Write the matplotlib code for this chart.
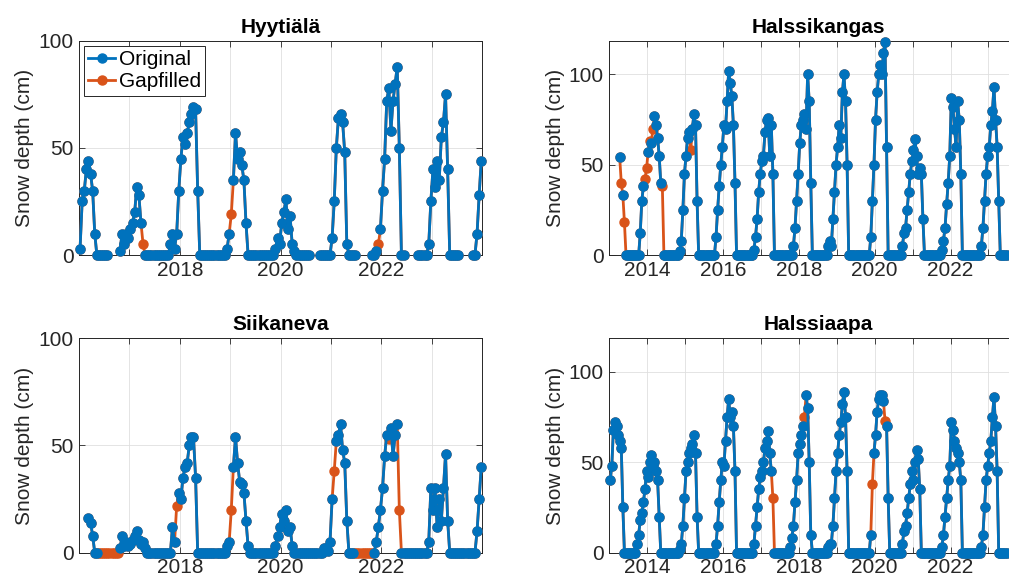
import numpy as np
import matplotlib.pyplot as plt

plt.rcParams['font.family'] = ['Liberation Sans', 'DejaVu Sans']

n = np.nan

# Snow depth (cm), two values per month (1st / 2nd half), nan = no data
# Gapfilled values are in the same lists, their positions in *_gap (year, half-month)

# Hyytiälä 2016-2023
hyy = [
    [3, 25, 30, 40, 44, 38, 30, 10, 0, 0, 0, 0, 0, 0, n, n, n, n, n, 2, 10, 5, 10, 8],
    [12, 15, 20, 32, 28, 15, 5, 0, 0, 0, 0, 0, 0, 0, 0, 0, 0, 0, 0, 5, 10, 3, 10, 30],
    [45, 55, 52, 57, 62, 66, 69, 68, 30, 0, 0, 0, 0, 0, 0, 0, 0, 0, 0, 0, 0, 0, 3, 10],
    [19, 35, 57, 45, 48, 42, 35, 15, 0, 0, 0, 0, 0, 0, 0, 0, 0, 0, 0, 0, 0, 3, 8, 5],
    [15, 20, 26, 12, 18, 5, 2, 0, 0, 0, 0, 0, 0, 0, n, n, n, n, 0, 0, 0, 0, 0, 0],
    [8, 25, 50, 64, 66, 62, 48, 5, 0, 0, 0, 0, n, n, n, n, n, n, n, 0, 0, 2, 5, 12],
    [30, 45, 72, 78, 58, 72, 80, 88, 50, 0, 0, n, n, n, n, n, n, 0, 0, 0, 0, 0, 5, 25],
    [40, 32, 44, 35, 55, 62, 75, 40, 0, 0, 0, 0, 0, n, n, n, n, n, n, 0, 0, 10, 28, 44],
]
hyy_gap = [(2017, 6), (2019, 0), (2021, 22)]

# Siikaneva 2016-2023
sii = [
    [n, n, n, n, 16, 14, 8, 0, 0, 0, 0, 0, 0, 0, 0, 0, 0, 0, 0, 2, 8, 3, 5, 3],
    [4, 6, 8, 10, 6, 4, 5, 2, 0, 0, 0, 0, 0, 0, 0, 0, 0, 0, 0, 0, 12, 5, 22, 28],
    [25, 35, 40, 42, 50, 54, 54, 35, 0, 0, 0, 0, 0, 0, 0, 0, 0, 0, 0, 0, 0, 0, 3, 5],
    [20, 40, 54, 42, 33, 32, 28, 15, 3, 0, 0, 0, 0, 0, 0, 0, 0, 0, 0, 0, 0, 3, 8, 12],
    [18, 15, 20, 10, 12, 3, 0, 0, 0, 0, 0, 0, 0, 0, 0, 0, 0, 0, 0, 0, 2, 2, 1, 5],
    [25, 38, 52, 55, 60, 48, 42, 15, 0, 0, 0, 0, 0, 0, 0, 0, 0, 0, 0, 0, 0, 5, 12, 20],
    [30, 45, 55, 53, 58, 45, 55, 60, 20, 0, 0, 0, 0, 0, 0, 0, 0, 0, 0, 0, 0, 0, 5, 30],
    [20, 30, 12, 25, 15, 30, 46, 15, 0, 0, 0, 0, 0, 0, 0, 0, 0, 0, 0, 0, 0, 10, 25, 40],
]
sii_gap = ([(2016, k) for k in range(9, 19)] + [(2017, 22), (2019, 0), (2021, 1)]
           + [(2021, k) for k in range(11, 20)] + [(2022, 3), (2022, 8)])

# Halssikangas 2013-2023
hka = [
    [n, n, n, n, n, n, 54, 40, 33, 18, 0, 0, 0, 0, 0, 0, 0, 0, 0, 12, 30, 38, 42, 48],
    [57, 63, 62, 70, 77, 72, 65, 55, 40, 38, 0, 0, 0, 0, 0, 0, 0, 0, 0, 0, 2, 8, 25, 45],
    [55, 65, 68, 58, 70, 78, 72, 30, 0, 0, 0, 0, 0, 0, 0, 0, 0, 0, 0, 10, 25, 38, 50, 60],
    [72, 70, 85, 102, 95, 88, 72, 40, 0, 0, 0, 0, 0, 0, 0, 0, 0, 0, 0, 3, 10, 20, 35, 45],
    [52, 55, 68, 75, 76, 55, 72, 45, 0, 0, 0, 0, 0, 0, 0, 0, 0, 0, 0, 0, 5, 15, 30, 45],
    [62, 72, 75, 78, 70, 100, 85, 40, 0, 0, 0, 0, 0, 0, 0, 0, 0, 0, 5, 8, 5, 20, 35, 50],
    [60, 72, 65, 90, 100, 85, 50, 0, 0, 0, 0, 0, 0, 0, 0, 0, 0, 0, 0, 0, 0, 10, 30, 50],
    [75, 90, 100, 105, 100, 112, 118, 60, 0, 0, 0, 0, 0, 0, 0, 0, 0, 5, 12, 15, 25, 35, 45, 52],
    [58, 64, 55, 45, 48, 45, 20, 0, 0, 0, 0, 0, 0, 0, 0, 0, 0, 0, 3, 8, 15, 28, 40, 55],
    [87, 82, 70, 60, 85, 75, 45, 0, 0, 0, 0, 0, 0, 0, 0, 0, 0, 0, 0, 5, 15, 30, 45, 55],
    [60, 72, 80, 93, 75, 60, 30, 0, 0, 0, 0, 0, n, n, n, n, n, n, n, n, n, n, n, n],
]
hka_gap = [(2013, 7), (2013, 9), (2013, 22), (2013, 23), (2014, 1), (2014, 3),
           (2014, 9), (2015, 3)]

# Halssiaapa 2013-2023
hap = [
    [40, 48, 68, 72, 70, 65, 62, 58, 25, 0, 0, 0, 0, 0, 0, 0, 0, 5, 10, 18, 22, 28, 35, 45],
    [42, 50, 54, 48, 50, 45, 40, 20, 0, 0, 0, 0, 0, 0, 0, 0, 0, 0, 0, 0, 2, 5, 15, 30],
    [45, 50, 55, 58, 60, 65, 55, 20, 0, 0, 0, 0, 0, 0, 0, 0, 0, 0, 0, 5, 15, 28, 40, 50],
    [48, 62, 75, 85, 75, 78, 70, 45, 0, 0, 0, 0, 0, 0, 0, 0, 0, 0, 0, 5, 15, 25, 35, 42],
    [45, 50, 58, 62, 67, 55, 45, 30, 0, 0, 0, 0, 0, 0, 0, 0, 0, 0, 3, 8, 15, 28, 40, 55],
    [60, 65, 70, 75, 87, 80, 50, 10, 0, 0, 0, 0, 0, 0, 0, 0, 0, 0, 3, 5, 5, 15, 30, 45],
    [55, 65, 72, 82, 89, 75, 45, 0, 0, 0, 0, 0, 0, 0, 0, 0, 0, 0, 0, 0, 0, 10, 38, 55],
    [65, 78, 85, 87, 87, 84, 73, 70, 30, 0, 0, 0, 0, 0, 0, 0, 0, 5, 12, 15, 22, 30, 38, 45],
    [40, 50, 57, 52, 35, 0, 0, 0, 0, 0, 0, 0, 0, 0, 0, 0, 0, 0, 3, 10, 20, 30, 40, 48],
    [72, 68, 62, 58, 55, 50, 40, 0, 0, 0, 0, 0, 0, 0, 0, 0, 0, 0, 0, 3, 10, 25, 40, 48],
    [55, 62, 75, 86, 70, 45, 0, 0, 0, 0, 0, 0, n, n, n, n, n, n, n, n, n, n, n, n],
]
hap_gap = [(2017, 7), (2018, 3), (2019, 22), (2020, 6)]

azul = '#0072BD'
naranja = '#D95319'
gris = '#262626'


def dibujar(ax, titulo, inicio, anios, huecos, xlim, ylim, etiquetas):
    vals = np.array(sum(anios, []), dtype=float)
    t = inicio + (np.arange(len(vals)) + 0.5) / 24
    orig = vals.copy()
    for a, k in huecos:
        orig[(a - inicio) * 24 + k] = np.nan
    l2, = ax.plot(t, vals, '-o', color=naranja, ms=6.5, lw=2, clip_on=False, zorder=3)
    l1, = ax.plot(t, orig, '-o', color=azul, ms=6.5, lw=2, clip_on=False, zorder=4)
    ax.set_xlim(xlim)
    ax.set_ylim(ylim)
    years = np.arange(xlim[0], xlim[1] + 1)
    ax.set_xticks(years)
    ax.set_xticklabels([str(y) if y in etiquetas else '' for y in years])
    ax.set_yticks([0, 50, 100])
    ax.grid(True, color='#dfdfdf', lw=0.6)
    ax.set_axisbelow(True)
    ax.tick_params(direction='in', top=True, right=True, length=4, width=0.6,
                   color=gris, labelcolor=gris, labelsize=15, pad=4)
    for s in ax.spines.values():
        s.set_color(gris)
        s.set_linewidth(0.7)
    ax.set_title(titulo, fontsize=15, fontweight='bold', pad=6)
    ax.set_ylabel('Snow depth (cm)', fontsize=15, color=gris, labelpad=3)
    return l1, l2


fig = plt.figure(figsize=(10.09, 5.83), dpi=100)
ax1 = fig.add_axes([0.0783, 0.5626, 0.3997, 0.3671])
ax2 = fig.add_axes([0.604, 0.5626, 0.4132, 0.3671])
ax3 = fig.add_axes([0.0783, 0.052, 0.3997, 0.3677])
ax4 = fig.add_axes([0.604, 0.052, 0.4132, 0.3677])

l1, l2 = dibujar(ax1, 'Hyytiälä', 2016, hyy, hyy_gap, (2016, 2024), (0, 100), [2018, 2020, 2022])
dibujar(ax2, 'Halssikangas', 2013, hka, hka_gap, (2013, 2024), (0, 118.5), [2014, 2016, 2018, 2020, 2022])
dibujar(ax3, 'Siikaneva', 2016, sii, sii_gap, (2016, 2024), (0, 100), [2018, 2020, 2022])
dibujar(ax4, 'Halssiaapa', 2013, hap, hap_gap, (2013, 2024), (0, 118.5), [2014, 2016, 2018, 2020, 2022])

leg = ax1.legend([l1, l2], ['Original', 'Gapfilled'], loc='upper left', fontsize=15,
                 fancybox=False, edgecolor=gris, framealpha=1, handlelength=1.3,
                 handletextpad=0.15, borderpad=0.2, labelspacing=0.15,
                 borderaxespad=0.25)
leg.get_frame().set_linewidth(0.7)

plt.savefig('out.png', dpi=100)
